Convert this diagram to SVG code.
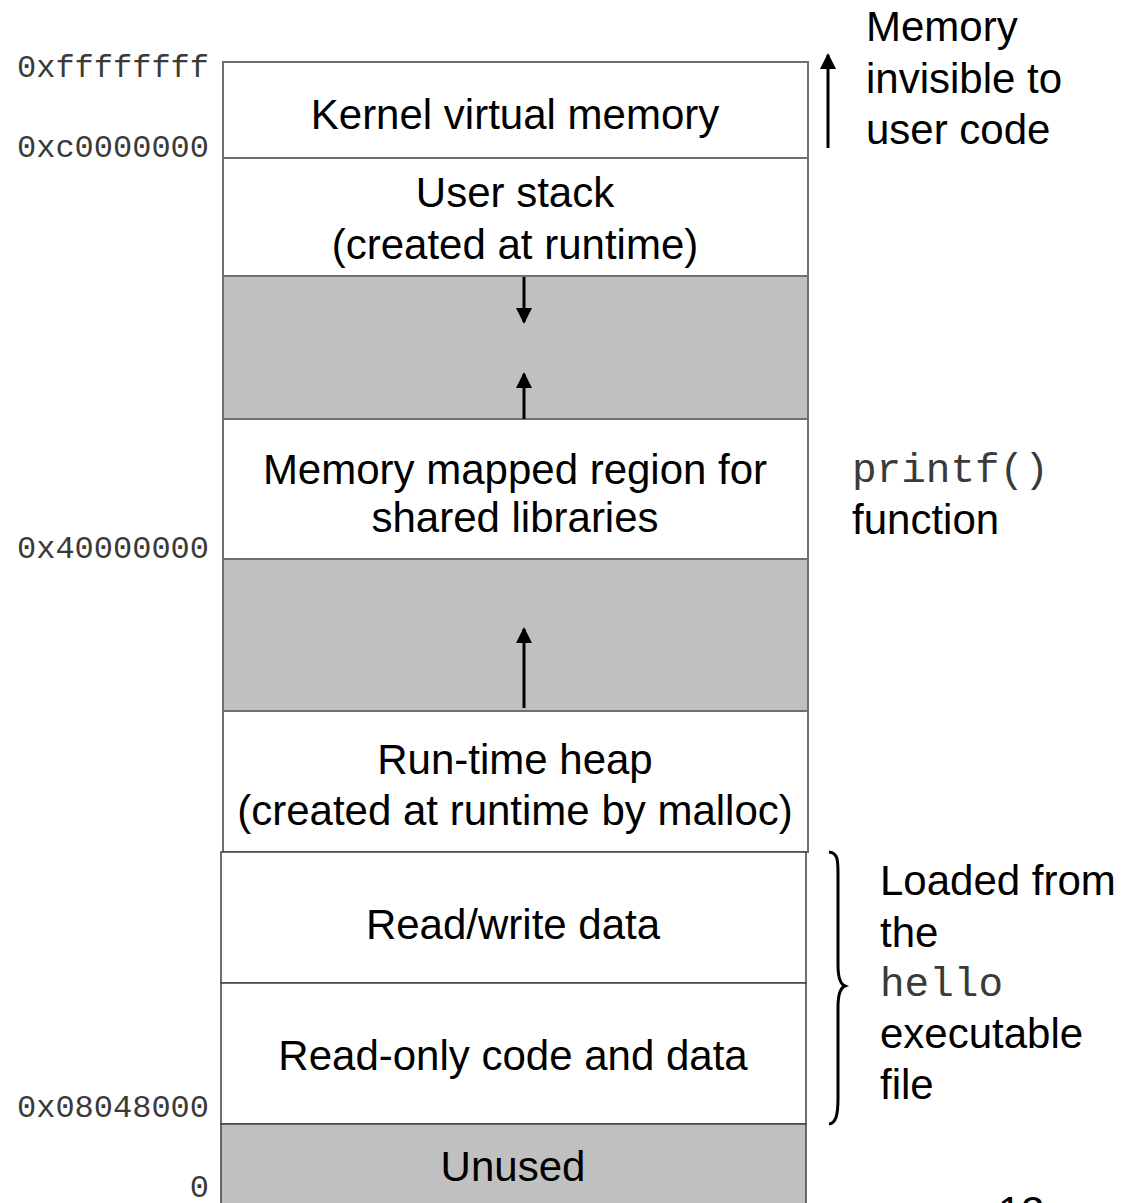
<svg xmlns="http://www.w3.org/2000/svg" width="1128" height="1203" viewBox="0 0 1128 1203">
  <style>
    .box { stroke: #707070; stroke-width: 2; }
    .low { stroke: #404040; stroke-width: 1.5; }
    .white { fill: #ffffff; }
    .gray { fill: #c0c0c0; }
    .lbl { font-family: "Liberation Sans", Arial, sans-serif; font-size: 42px; fill: #000; }
    .mid { text-anchor: middle; }
    .addr { font-family: "Liberation Mono", "Courier New", monospace; font-size: 32px; fill: #3a3a3a; text-anchor: end; }
    .mono { font-family: "Liberation Mono", "Courier New", monospace; font-size: 41px; fill: #3a3a3a; }
    .arrow { stroke: #000; stroke-width: 3; fill: none; }
  </style>
  <defs>
    <marker id="head" viewBox="0 0 16 16" refX="14" refY="8" markerWidth="16" markerHeight="16" markerUnits="userSpaceOnUse" orient="auto">
      <path d="M0,0 L16,8 L0,16 Z" fill="#000"/>
    </marker>
  </defs>

  <rect width="1128" height="1203" fill="#ffffff"/>

  <!-- address segments -->
  <g id="kernel">
    <rect class="box white" x="223" y="62" width="585" height="96"/>
    <text class="lbl mid" x="515" y="129">Kernel virtual memory</text>
  </g>
  <g id="user-stack">
    <rect class="box white" x="223" y="158" width="585" height="118"/>
    <text class="lbl mid" x="515" y="207">User stack</text>
    <text class="lbl mid" x="515" y="259">(created at runtime)</text>
  </g>
  <g id="gap-stack">
    <rect class="box gray" x="223" y="276" width="585" height="143"/>
  </g>
  <g id="shared-libs">
    <rect class="box white" x="223" y="419" width="585" height="140"/>
    <text class="lbl mid" x="515" y="484">Memory mapped region for</text>
    <text class="lbl mid" x="515" y="532">shared libraries</text>
  </g>
  <g id="gap-heap">
    <rect class="box gray" x="223" y="559" width="585" height="152"/>
  </g>
  <g id="heap">
    <rect class="box white" x="223" y="711" width="585" height="141"/>
    <text class="lbl mid" x="515" y="774">Run-time heap</text>
    <text class="lbl mid" x="515" y="825">(created at runtime by malloc)</text>
  </g>
  <g id="rw-data">
    <rect class="low white" x="221" y="852" width="585" height="131"/>
    <text class="lbl mid" x="513" y="939">Read/write data</text>
  </g>
  <g id="ro-code">
    <rect class="low white" x="221" y="983" width="585" height="141"/>
    <text class="lbl mid" x="513" y="1070">Read-only code and data</text>
  </g>
  <g id="unused">
    <rect class="low gray" x="221" y="1124" width="585" height="90"/>
    <text class="lbl mid" x="513" y="1181">Unused</text>
  </g>

  <!-- address labels -->
  <g id="addresses">
    <text class="addr" x="209" y="77">0xffffffff</text>
    <text class="addr" x="209" y="157">0xc0000000</text>
    <text class="addr" x="209" y="558">0x40000000</text>
    <text class="addr" x="209" y="1117">0x08048000</text>
    <text class="addr" x="209" y="1197">0</text>
  </g>

  <!-- side notes -->
  <g id="note-kernel">
    <text class="lbl" x="866" y="41">Memory</text>
    <text class="lbl" x="866" y="93">invisible to</text>
    <text class="lbl" x="866" y="144">user code</text>
  </g>
  <g id="note-printf">
    <text class="mono" x="852" y="482">printf()</text>
    <text class="lbl" x="852" y="534">function</text>
  </g>
  <g id="note-loaded">
    <text class="lbl" x="880" y="895">Loaded from</text>
    <text class="lbl" x="880" y="947">the</text>
    <text class="mono" x="880" y="996">hello</text>
    <text class="lbl" x="880" y="1048">executable</text>
    <text class="lbl" x="880" y="1099">file</text>
  </g>
  <g id="page-number">
    <text class="lbl mid" x="1021" y="1226">12</text>
  </g>

  <!-- connectors -->
  <g id="connectors">
    <line class="arrow" x1="828" y1="148" x2="828" y2="55" marker-end="url(#head)"/>
    <line class="arrow" x1="524" y1="277" x2="524" y2="322" marker-end="url(#head)"/>
    <line class="arrow" x1="524" y1="419" x2="524" y2="374" marker-end="url(#head)"/>
    <line class="arrow" x1="524" y1="708" x2="524" y2="629" marker-end="url(#head)"/>
    <path class="arrow" stroke-width="2.5" d="M829,852 C838,853 838,860 838,875 L838,965 C838,978 840,984 845,986 C840,988 838,994 838,1007 L838,1098 C838,1115 836,1123 829,1124"/>
  </g>
</svg>
